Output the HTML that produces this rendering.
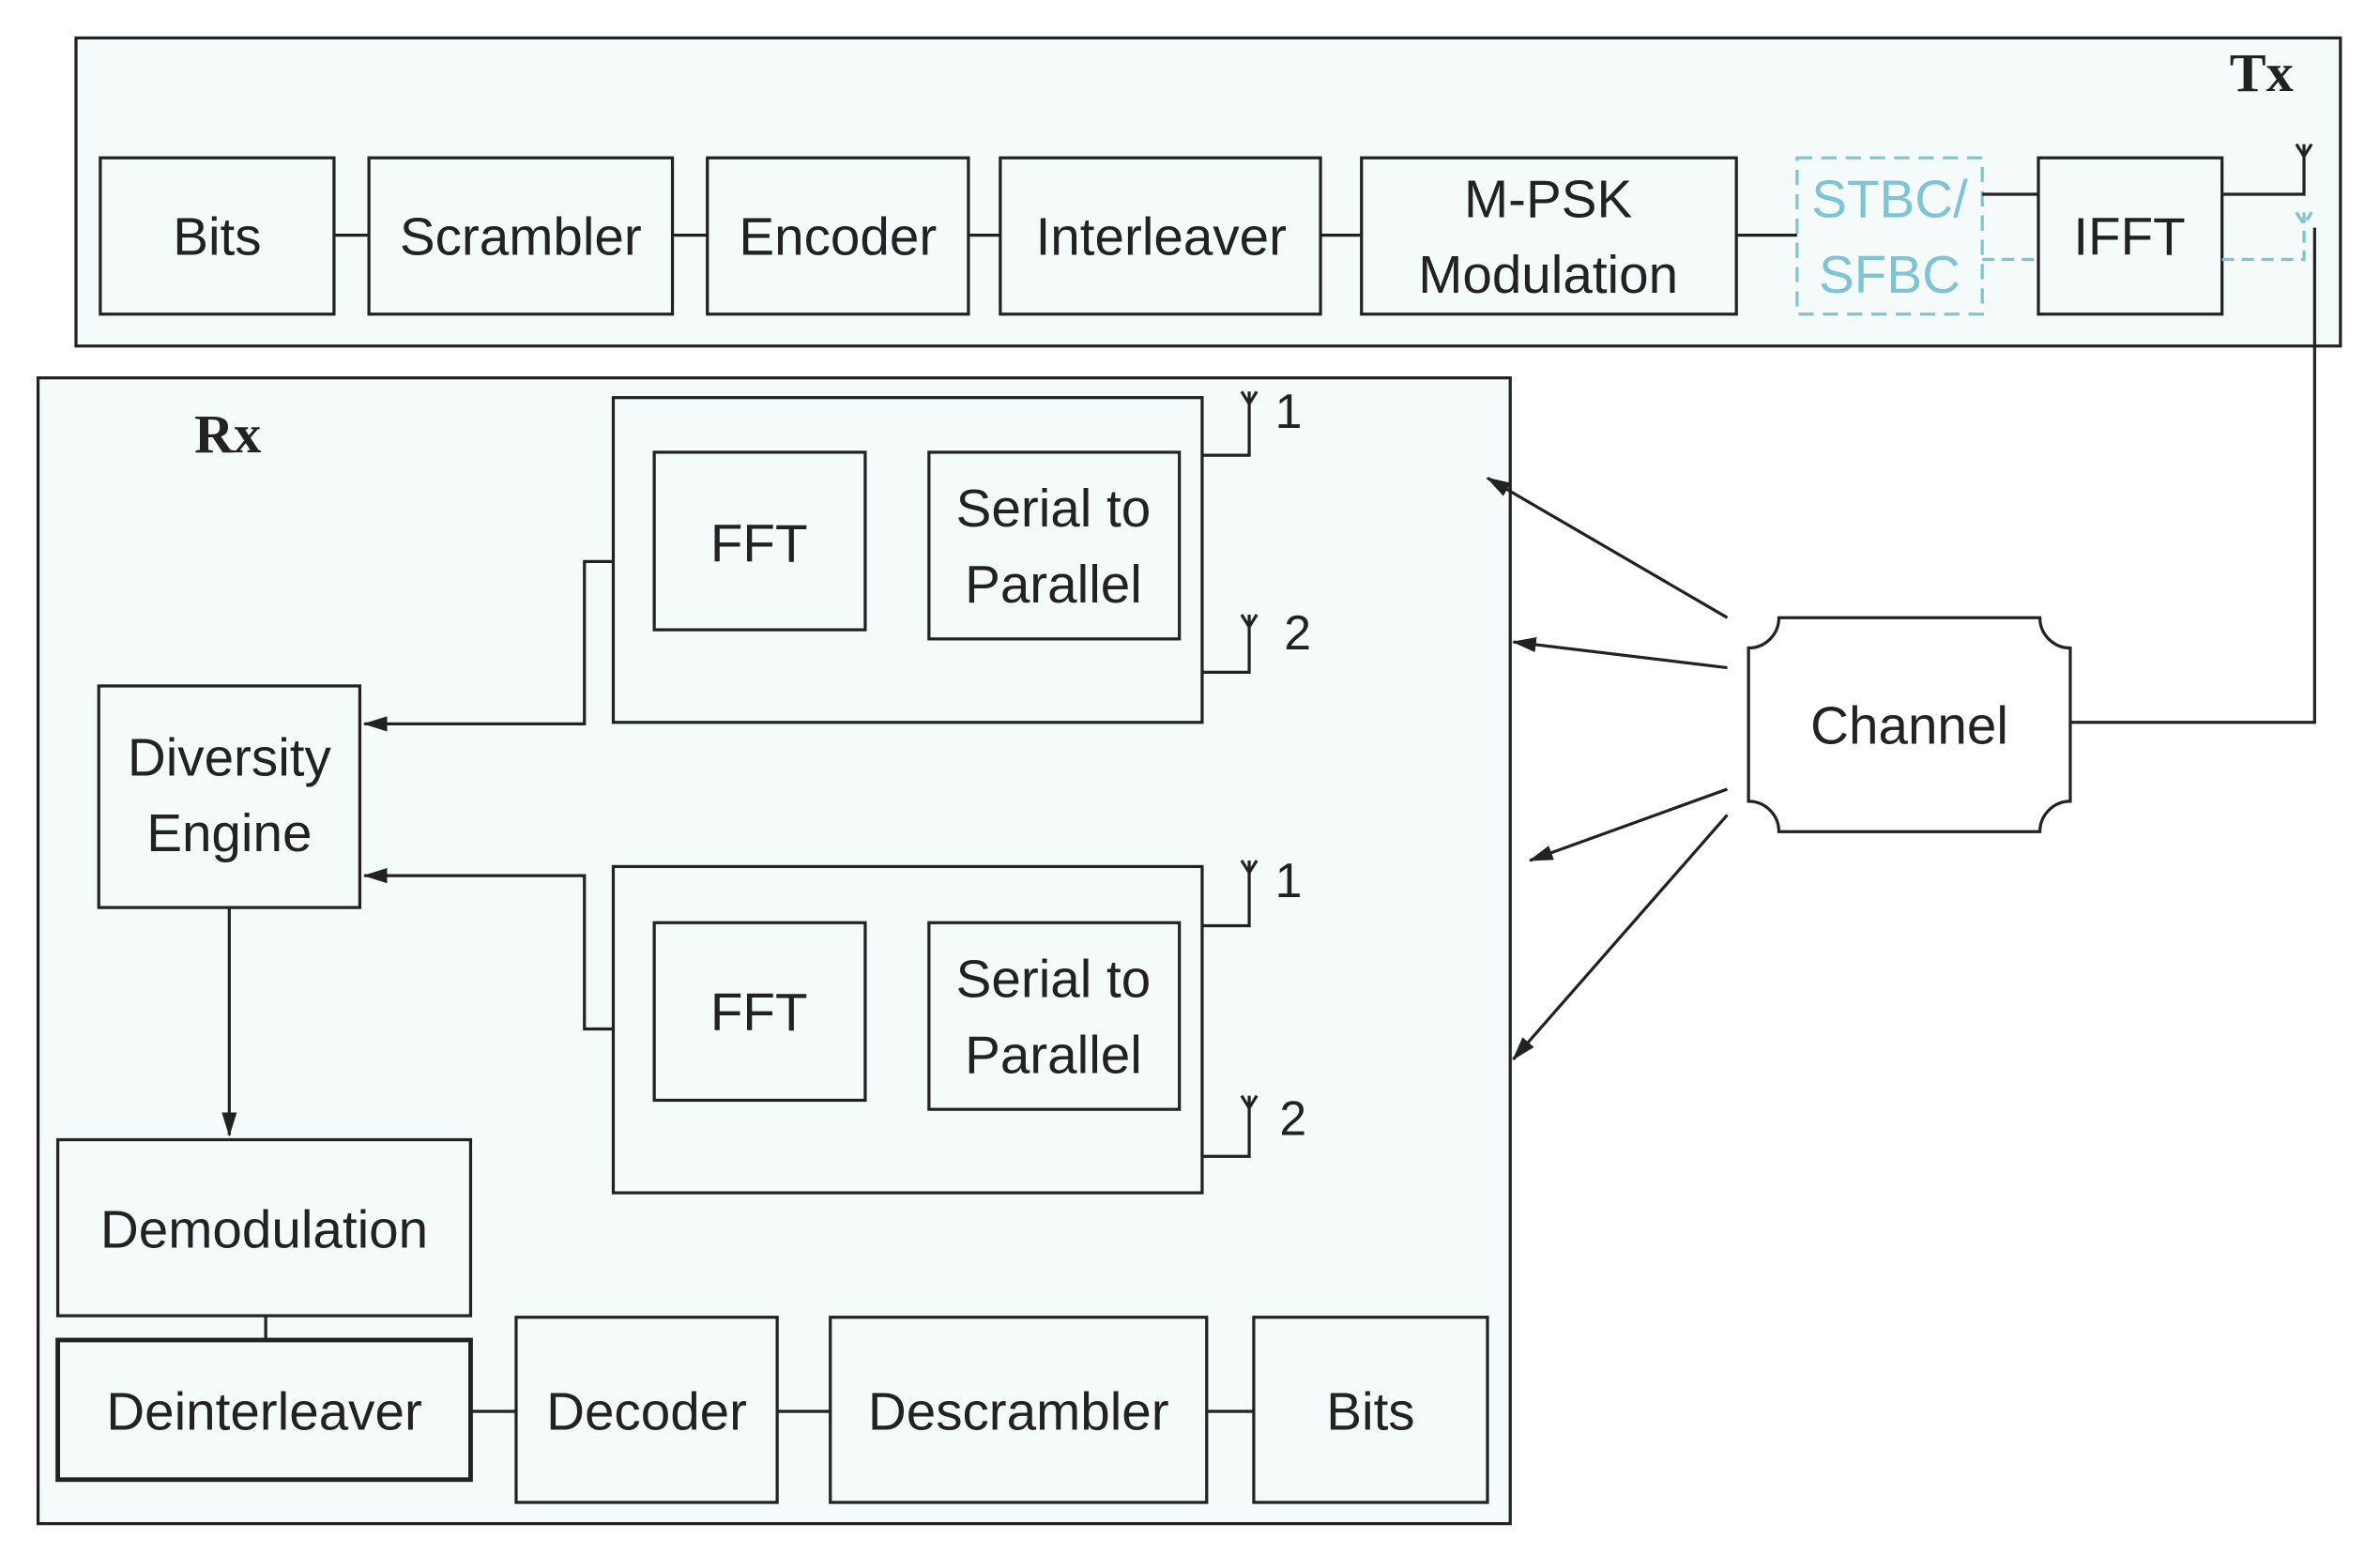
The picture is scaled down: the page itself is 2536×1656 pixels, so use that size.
<!DOCTYPE html>
<html><head><style>html,body{margin:0;padding:0;background:#fff}svg{display:block}</style></head><body>
<svg width="2536" height="1656" viewBox="0 0 1568 1024" xmlns="http://www.w3.org/2000/svg">
<defs><marker id="a" markerWidth="16" markerHeight="10" refX="15" refY="5" orient="auto" markerUnits="userSpaceOnUse"><path d="M0,0 L16,5 L0,10 z" fill="#222"/></marker></defs>
<g font-family="Liberation Sans, sans-serif" font-size="35" fill="#222" text-anchor="middle">
<rect x="50" y="25" width="1492" height="203" fill="#f5fafb" stroke="#222" stroke-width="2"/>
<text x="1490" y="60" font-family="Liberation Serif, serif" font-weight="bold" font-size="36">Tx</text>
<g fill="#f5fafb" stroke="#222" stroke-width="2">
<rect x="66" y="104" width="154" height="103"/><rect x="243" y="104" width="200" height="103"/>
<rect x="466" y="104" width="172" height="103"/><rect x="659" y="104" width="211" height="103"/>
<rect x="897" y="104" width="247" height="103"/><rect x="1343" y="104" width="121" height="103"/>
</g>
<rect x="1184" y="104" width="122" height="103" fill="none" stroke="#7ec4d4" stroke-width="2" stroke-dasharray="10,6"/>
<g fill="#222"><text x="143" y="168">Bits</text><text x="343" y="168">Scrambler</text><text x="552" y="168">Encoder</text><text x="765" y="168">Interleaver</text>
<text x="1020" y="143">M-PSK</text><text x="1020" y="193">Modulation</text><text x="1403" y="168">IFFT</text></g>
<g fill="#7ec4d4"><text x="1245" y="143">STBC/</text><text x="1245" y="193">SFBC</text></g>
<g stroke="#222" stroke-width="2" fill="none">
<path d="M220 155H243M443 155H466M638 155H659M870 155H897M1144 155H1184M1306 128H1343M1464 128H1518V95M1513 95L1518 103L1523 95"/>
<path d="M1525 150V476H1364"/>
</g>
<path d="M1306 171H1343M1464 171H1518V140M1513 140L1518 148L1523 140" stroke="#7ec4d4" stroke-width="2" fill="none" stroke-dasharray="8,5"/>
<rect x="25" y="249" width="970" height="755" fill="#f5fafb" stroke="#222" stroke-width="2"/>
<text x="150" y="298" font-family="Liberation Serif, serif" font-weight="bold" font-size="36">Rx</text>
<g fill="none" stroke="#222" stroke-width="2">
<rect x="404" y="262" width="388" height="214"/><rect x="431" y="298" width="139" height="117"/><rect x="612" y="298" width="165" height="123"/>
<rect x="404" y="571" width="388" height="215"/><rect x="431" y="608" width="139" height="117"/><rect x="612" y="608" width="165" height="123"/>
<rect x="65" y="452" width="172" height="146"/><rect x="38" y="751" width="272" height="116"/>
<rect x="38" y="883" width="272" height="92" stroke-width="3"/>
<rect x="340" y="868" width="172" height="122"/><rect x="547" y="868" width="248" height="122"/><rect x="826" y="868" width="154" height="122"/>
<path d="M792 300H823V258M818 258L823 266L828 258M792 443H823V405M818 405L823 413L828 405"/>
<path d="M792 610H823V567M818 567L823 575L828 567M792 762H823V722M818 722L823 730L828 722"/>
<path d="M404 370H385V477H240" marker-end="url(#a)"/>
<path d="M404 678H385V577H240" marker-end="url(#a)"/>
<path d="M151 598V748" marker-end="url(#a)"/>
<path d="M175 867V883M310 930H340M512 930H547M795 930H826"/>
<path d="M1138 407L980 315" marker-end="url(#a)"/><path d="M1138 440L997 423" marker-end="url(#a)"/>
<path d="M1138 520L1008 567" marker-end="url(#a)"/><path d="M1138 537L997 698" marker-end="url(#a)"/>
<path d="M1172 407H1344A20 20 0 0 0 1364 427V528A20 20 0 0 0 1344 548H1172A20 20 0 0 0 1152 528V427A20 20 0 0 0 1172 407Z" fill="#fff"/>
</g>
<text x="500" y="370">FFT</text><text x="694" y="347">Serial to</text><text x="694" y="397">Parallel</text>
<text x="500" y="679">FFT</text><text x="694" y="657">Serial to</text><text x="694" y="707">Parallel</text>
<g text-anchor="start" font-size="32"><text x="840" y="282">1</text><text x="846" y="428">2</text><text x="840" y="591">1</text><text x="843" y="748">2</text></g>
<text x="151" y="511">Diversity</text><text x="151" y="561">Engine</text>
<text x="174" y="822">Demodulation</text><text x="174" y="942">Deinterleaver</text>
<text x="426" y="942">Decoder</text><text x="671" y="942">Descrambler</text><text x="903" y="942">Bits</text>
<text x="1258" y="490">Channel</text>
</g>
</svg>
</body></html>
